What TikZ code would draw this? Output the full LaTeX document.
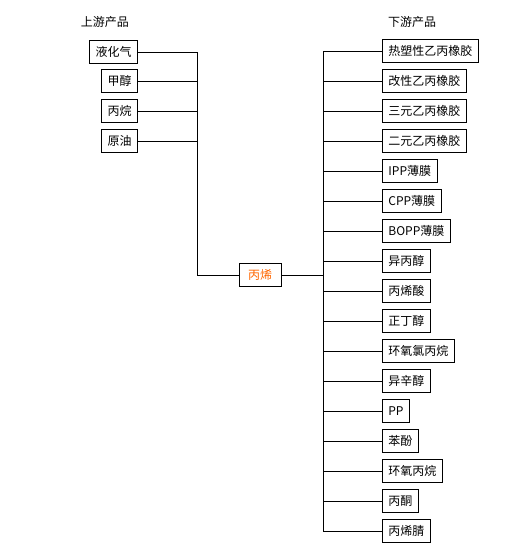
\documentclass[tikz,border=0pt]{standalone}
\usepackage{fontspec}
\newfontfamily\cjk{Noto Sans CJK SC}
\usetikzlibrary{positioning}
\definecolor{proporange}{HTML}{FF6600}

\begin{document}
\begin{tikzpicture}[
  x=1pt,y=-1pt,
  font=\cjk\fontsize{12}{14}\selectfont,
  line width=0.8pt,
  prod/.style={draw,inner xsep=6pt,inner ysep=0pt,minimum height=23pt},
  head/.style={inner sep=0pt}
]
\useasboundingbox (0,0) rectangle (520,550);
\node[head] (uptitle) at (105,22) {上游产品};
\node[head] (downtitle) at (412,22) {下游产品};
% upstream
\node[prod,anchor=east] (up1) at (138,52) {液化气};
\node[prod,anchor=east] (up2) at (138,81) {甲醇};
\node[prod,anchor=east] (up3) at (138,111) {丙烷};
\node[prod,anchor=east] (up4) at (138,141) {原油};
\node[prod,text=proporange,minimum width=42pt] (prop) at (260,275) {丙烯};
\coordinate (lbus) at (197,275);
\coordinate (rbus) at (323,275);
% downstream
\foreach \t [count=\i] in {热塑性乙丙橡胶,改性乙丙橡胶,三元乙丙橡胶,二元乙丙橡胶,
  IPP薄膜,CPP薄膜,BOPP薄膜,异丙醇,丙烯酸,正丁醇,环氧氯丙烷,异辛醇,PP,苯酚,
  环氧丙烷,丙酮,丙烯腈}
  \node[prod,anchor=west] (d\i) at (382,{21+30*\i}) {\t};
\draw (up1.east) -| (lbus) -- (prop.west);
\foreach \i in {2,3,4} \draw (up\i.east) -- (up\i.east -| lbus);
\draw (d1.west) -| (rbus) -- (prop.east);
\draw (d17.west) -| (rbus);
\foreach \i in {2,...,16} \draw (d\i.west -| rbus) -- (d\i.west);
\end{tikzpicture}
\end{document}
